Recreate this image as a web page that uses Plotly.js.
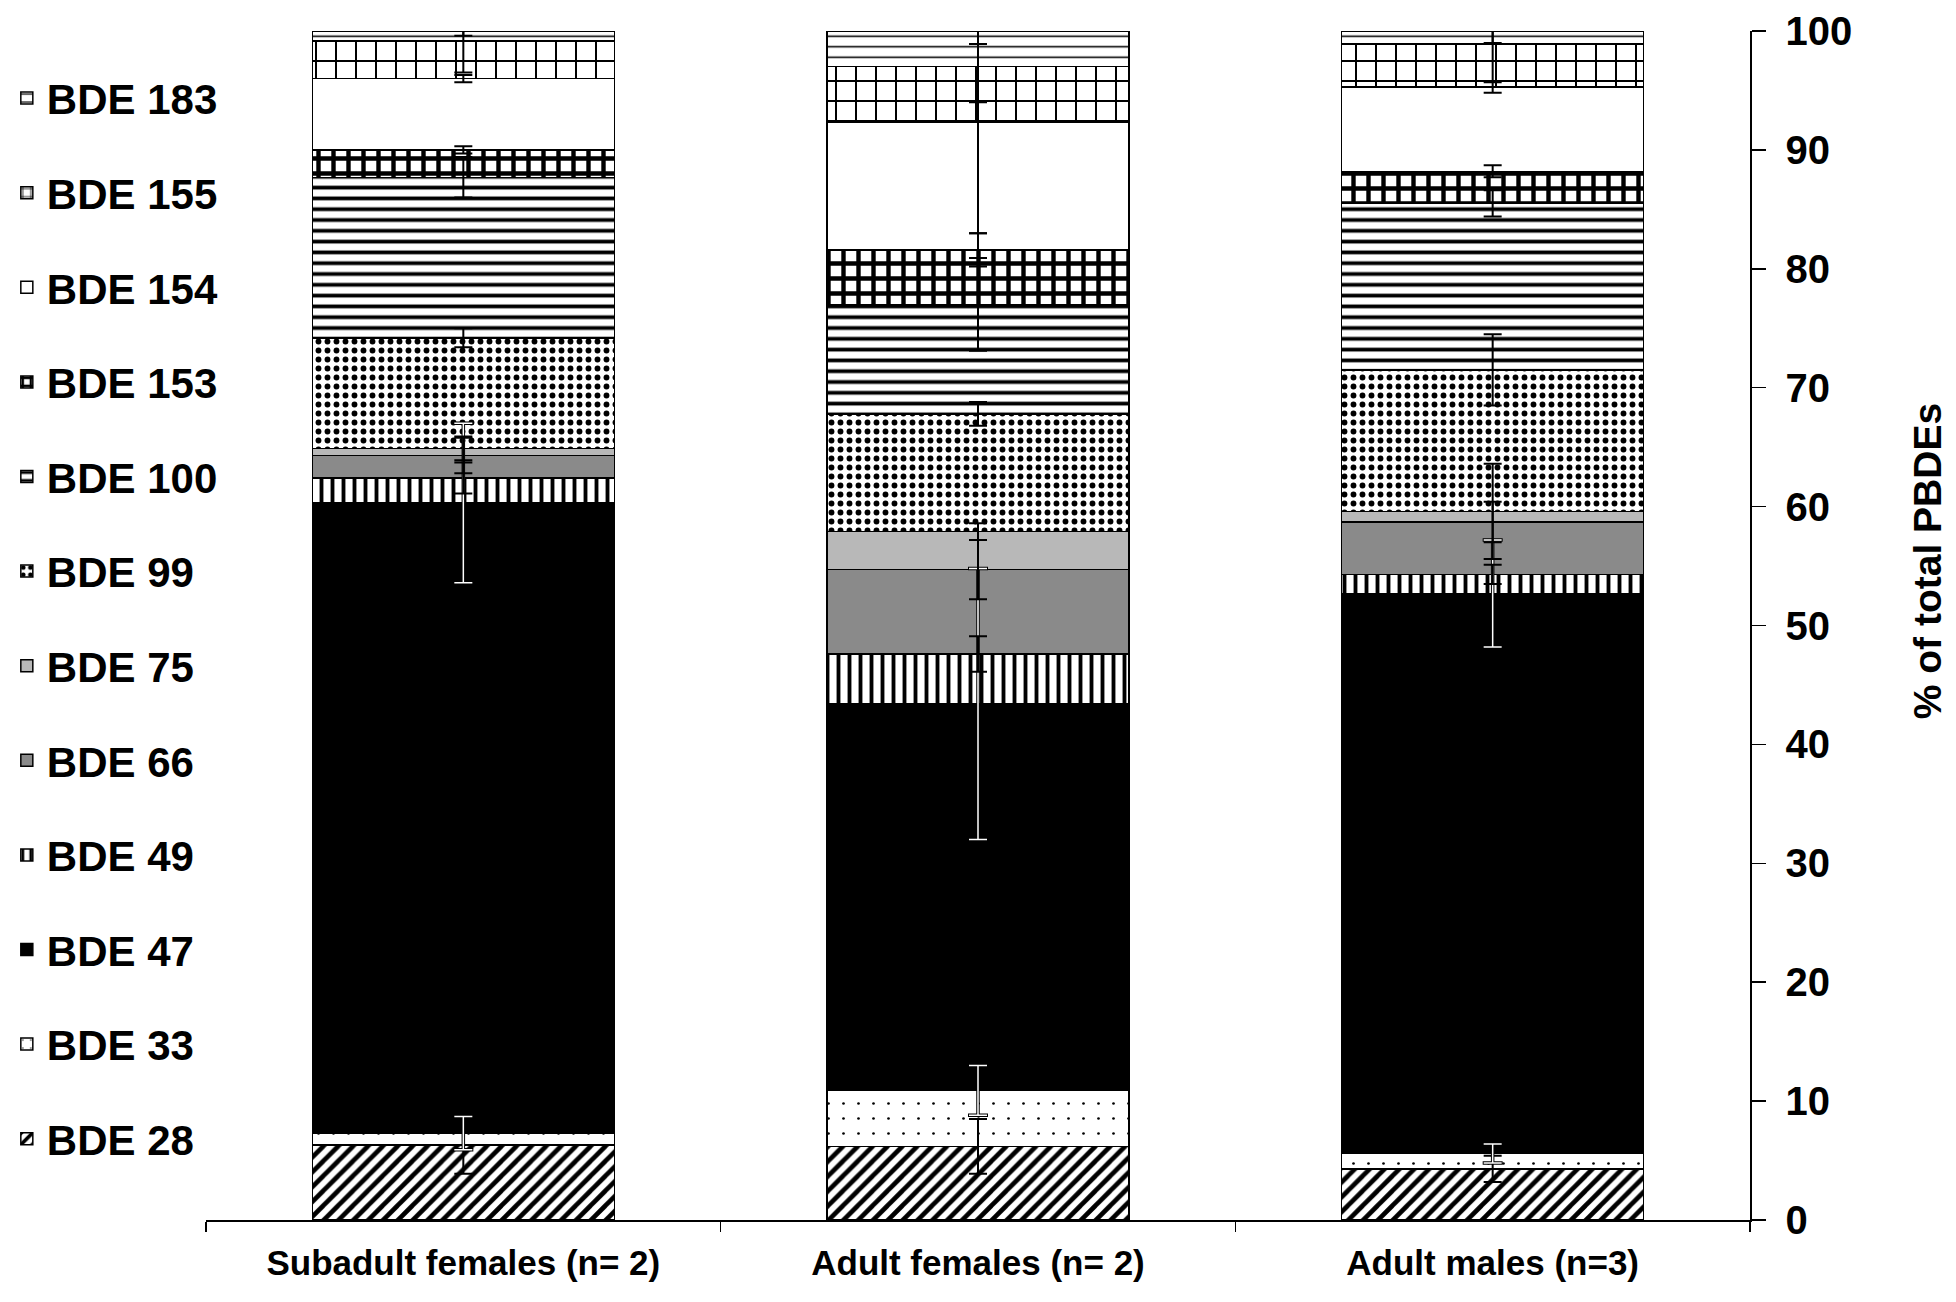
<!DOCTYPE html>
<html>
<head>
<meta charset="utf-8">
<script src="https://cdn.plot.ly/plotly-3.0.1.min.js"></script>
<style>
  html, body { margin: 0; padding: 0; background: #fff; }
  #pbde-plot { width: 1956px; height: 1302px; }
</style>
</head>
<body>
<div id="pbde-plot"></div>
<script>
// groups on the x axis
const groups = ['Subadult females (n= 2)', 'Adult females (n= 2)', 'Adult males (n=3)'];

// congeners, bottom of the stack first
const congeners = ['BDE 28', 'BDE 33', 'BDE 47', 'BDE 49', 'BDE 66', 'BDE 75',
                   'BDE 99', 'BDE 100', 'BDE 153', 'BDE 154', 'BDE 155', 'BDE 183'];

// % of total PBDEs
const bde28  = [6.3, 6.2, 4.3];
const bde33  = [1.0, 4.7, 1.3];
const bde47  = [53.0, 32.5, 47.1];
const bde49  = [2.1, 4.2, 1.6];
const bde66  = [1.9, 7.1, 4.4];
const bde75  = [0.6, 3.2, 0.9];
const bde99  = [9.3, 9.9, 11.9];
const bde100 = [13.5, 9.2, 14.0];
const bde153 = [2.3, 4.6, 2.7];
const bde154 = [6.0, 10.7, 7.1];
const bde155 = [3.2, 4.7, 3.6];
const bde183 = [0.8, 3.0, 1.1];

// error bars (symmetric), same order
const err28  = [2.4, 2.3, 1.1];
const err33  = [1.4, 2.1, 0.8];
const err47  = [6.7, 11.4, 4.5];
const err49  = [1.3, 1.5, 0.8];
const err66  = [1.5, 2.5, 1.7];
const err75  = [1.0, 0.7, 4.0];
const err99  = [0.8, 1.0, 3.0];
const err100 = [1.7, 3.9, 1.1];
const err153 = [0.3, 1.4, 0.5];
const err154 = [0.3, 9.3, 0.5];
const err155 = [2.7, 3.0, 3.2];
const err183 = [0.4, 1.1, 1.0];

const values = [bde28, bde33, bde47, bde49, bde66, bde75, bde99, bde100, bde153, bde154, bde155, bde183];
const errors = [err28, err33, err47, err49, err66, err75, err99, err100, err153, err154, err155, err183];

// fill styles, one per congener
const fills = [
    { color: '#fff', pattern: { shape: '/', fgcolor: '#000', bgcolor: '#fff', size: 10.5, solidity: 0.45 } },
    { color: '#fff', pattern: { shape: '.', fgcolor: '#000', bgcolor: '#fff', size: 15, solidity: 0.025 } },
    { color: '#000' },
    { color: '#fff', pattern: { shape: '|', fgcolor: '#000', bgcolor: '#fff', size: 11, solidity: 0.35 } },
    { color: '#8a8a8a' },
    { color: '#b8b8b8' },
    { color: '#fff', pattern: { shape: '.', fgcolor: '#000', bgcolor: '#fff', size: 9, solidity: 0.33 } },
    { color: '#fff', pattern: { shape: '-', fgcolor: '#000', bgcolor: '#fff', size: 10.8, solidity: 0.35 } },
    { color: '#fff', pattern: { shape: '+', fgcolor: '#000', bgcolor: '#fff', size: 15, solidity: 0.5 } },
    { color: '#fff' },
    { color: '#fff', pattern: { shape: '+', fgcolor: '#000', bgcolor: '#fff', size: 20, solidity: 0.19 } },
    { color: '#fff', pattern: { shape: '-', fgcolor: '#000', bgcolor: '#fff', size: 10.5, solidity: 0.15 } }
];

const fontFamily = 'Liberation Sans, Arial, sans-serif';

const traces = [];

congeners.forEach(function (name, i) {
    const marker = { color: fills[i].color, line: { color: '#000', width: 1.5 } };
    if (fills[i].pattern) marker.pattern = fills[i].pattern;
    traces.push({
        type: 'bar',
        name: name,
        x: groups,
        y: values[i],
        marker: marker,
        legendgroup: name,
        legendrank: 1000 - i * 10,   // top of the stack on top of the legend
        hoverinfo: 'x+y+name'
    });
});

// error bars sit on top of the stack, at each segment's cumulative top
const running = groups.map(() => 0);
congeners.forEach(function (name, i) {
    const tops = values[i].map(function (v, j) { running[j] += v; return running[j]; });
    const onBlack = (name === 'BDE 47' || name === 'BDE 33');
    const layers = onBlack
        ? [{ color: '#000', thickness: 3.5, width: 10 }, { color: '#fff', thickness: 1.5, width: 9 }]
        : [{ color: '#000', thickness: 2, width: 9 }];
    layers.forEach(function (st) {
        traces.push({
            type: 'scatter',
            mode: 'markers',
            x: groups,
            y: tops,
            marker: { size: 1, color: 'rgba(0,0,0,0)' },
            error_y: { type: 'data', array: errors[i], visible: true,
                       color: st.color, thickness: st.thickness, width: st.width },
            showlegend: false,
            hoverinfo: 'skip'
        });
    });
});

const layout = {
    width: 1956,
    height: 1302,
    paper_bgcolor: '#fff',
    plot_bgcolor: '#fff',
    margin: { l: 206, r: 206, t: 31, b: 82, autoexpand: false },
    barmode: 'stack',
    bargap: 0.413,
    showlegend: true,
    legend: {
        x: -0.129, xanchor: 'left',
        y: 0.972, yanchor: 'top',
        traceorder: 'grouped',
        tracegroupgap: 37,
        itemwidth: 30,
        bgcolor: 'rgba(0,0,0,0)',
        font: { family: fontFamily, size: 42, color: '#000', weight: 'bold' }
    },
    xaxis: {
        type: 'category',
        showline: true, linecolor: '#000', linewidth: 1.5,
        ticks: 'outside', tickson: 'boundaries', ticklen: 10, tickwidth: 1.5, tickcolor: '#000',
        showgrid: false, zeroline: false,
        ticklabelstandoff: 11,
        tickfont: { family: fontFamily, size: 35, color: '#000', weight: 'bold' }
    },
    yaxis: {
        side: 'right',
        range: [0, 100],
        dtick: 10,
        showline: true, linecolor: '#000', linewidth: 1.5,
        ticks: 'outside', ticklen: 14, tickwidth: 1.5, tickcolor: '#000',
        showgrid: false, zeroline: false,
        ticklabelstandoff: 12,
        tickfont: { family: fontFamily, size: 40, color: '#000', weight: 'bold' }
    },
    annotations: [{
        text: '% of total PBDEs',
        xref: 'paper', yref: 'paper',
        x: 1.1146, y: 0.554,
        xanchor: 'center', yanchor: 'middle',
        textangle: -90,
        showarrow: false,
        font: { family: fontFamily, size: 39, color: '#000', weight: 'bold' }
    }]
};

Plotly.newPlot('pbde-plot', traces, layout, { displayModeBar: false, staticPlot: true });
</script>
</body>
</html>
